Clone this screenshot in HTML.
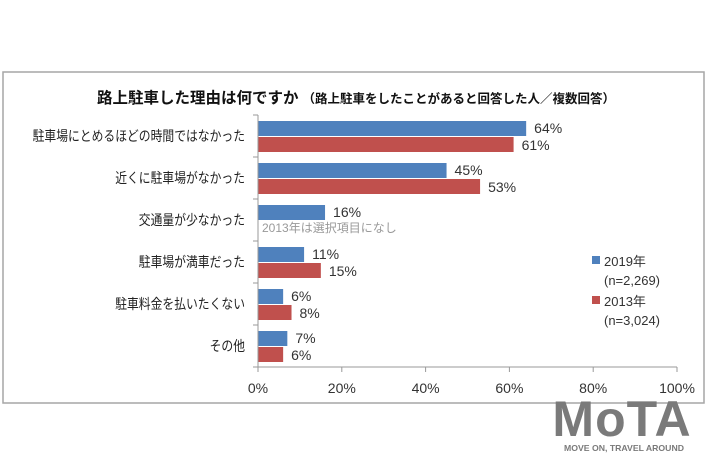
<!DOCTYPE html>
<html><head><meta charset="utf-8"><style>
body{margin:0;width:710px;height:473px;background:#fff;overflow:hidden;font-family:"Liberation Sans","Noto Sans CJK JP",sans-serif;}
svg{display:block}
</style></head><body>
<svg id="c" width="710" height="473">
<rect x="3" y="72" width="701" height="331" fill="#fff" stroke="#a6a6a6" stroke-width="1.5"/>
<text x="97" y="103" font-size="15.5" font-weight="bold" fill="#111">路上駐車した理由は何ですか<tspan font-size="12.5" dx="4">（路上駐車をしたことがあると回答した人／複数回答）</tspan></text>
<g id="plot"></g>
<g>
<rect x="592" y="256" width="8" height="8" fill="#4f81bd"/>
<text x="604" y="266" font-size="13" fill="#333">2019年</text>
<text x="604" y="285" font-size="13" fill="#333">(n=2,269)</text>
<rect x="592" y="296" width="8" height="8" fill="#c0504d"/>
<text x="604" y="306" font-size="13" fill="#333">2013年</text>
<text x="604" y="325" font-size="13" fill="#333">(n=3,024)</text>
</g>
<g>
<text x="622" y="436" text-anchor="middle" font-size="50" font-weight="bold" fill="#7a7a7a" letter-spacing="1">MoTA</text>
<text x="624" y="451" text-anchor="middle" font-size="8.5" font-weight="bold" fill="#7a7a7a" textLength="120" lengthAdjust="spacingAndGlyphs">MOVE ON, TRAVEL AROUND</text>
</g>
</svg>
<script>
const categories=["駐車場にとめるほどの時間ではなかった","近くに駐車場がなかった","交通量が少なかった","駐車場が満車だった","駐車料金を払いたくない","その他"];
const v2019=[64,45,16,11,6,7];
const v2013=[61,53,null,15,8,6];
const ticks=[0,20,40,60,80,100];
const NS="http://www.w3.org/2000/svg";
const g=document.getElementById('plot');
const x0=258,x1=677,yTop=115,yBot=367;
const band=(yBot-yTop)/categories.length;
const xs=v=>x0+(x1-x0)*v/100;
function mk(t,a){const e=document.createElementNS(NS,t);for(const k in a)e.setAttribute(k,a[k]);g.appendChild(e);return e;}
categories.forEach((c,i)=>{
  const top=yTop+i*band;
  const t=mk('text',{x:245,y:top+band/2+5,'text-anchor':'end','font-size':14,fill:'#222',textLength:c.length*11.8,lengthAdjust:'spacingAndGlyphs'});
  t.textContent=c;
  
  
  const bh=15, by=top+6;
  const b=mk('rect',{x:x0,y:by,width:xs(v2019[i])-x0,height:bh,fill:'#4f81bd'});
  
  
  const l=mk('text',{x:xs(v2019[i])+8,y:by+12,'font-size':14,fill:'#333'});
  l.textContent=v2019[i]+'%';
  
  
  if(v2013[i]!=null){
    const r=mk('rect',{x:x0,y:by+bh+1,width:xs(v2013[i])-x0,height:bh,fill:'#c0504d'});
    
    
    const l2=mk('text',{x:xs(v2013[i])+8,y:by+bh+14,'font-size':14,fill:'#333'});
    l2.textContent=v2013[i]+'%';
    
    
  } else {
    const n=mk('text',{x:262,y:by+bh+12,'font-size':12,fill:'#999'});
    n.textContent='2013年は選択項目になし';
    
    
  }
  const tk=mk('line',{x1:253,x2:x0,y1:top,y2:top,stroke:'#999'});
  
  
});
const ya=mk('line',{x1:x0,x2:x0,y1:yTop,y2:yBot,stroke:'#999'});


const xa=mk('line',{x1:253,x2:x1,y1:yBot,y2:yBot,stroke:'#999'});


ticks.forEach(t=>{
  const l=mk('line',{x1:xs(t),x2:xs(t),y1:yBot,y2:yBot+5,stroke:'#999'});
  
  
  const tx=mk('text',{x:xs(t),y:yBot+26,'text-anchor':'middle','font-size':14,fill:'#333'});
  tx.textContent=t+'%';
  
  
});
</script>
</body></html>
